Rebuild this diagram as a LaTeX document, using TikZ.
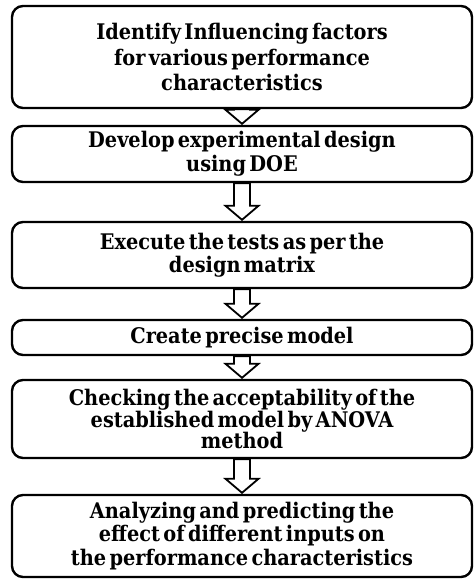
\documentclass[tikz,border=0pt]{standalone}
\usepackage{fontspec}
\setmainfont{DejaVu Serif Condensed}[WordSpace=0.5]
\usetikzlibrary{calc}

\tikzset{
  stepbox/.style={draw=black, line width=2.4pt, rounded corners=11pt,
    minimum width=460pt, inner sep=0pt, align=center, fill=white,
    font=\bfseries\fontsize{21.5}{24}\selectfont},
  blockarrow/.style={draw=black, line width=1.8pt, fill=white, line join=miter},
}

% hollow block arrow from the bottom of one step to the top of the next
\newcommand\flowarrow[2]{%
  \draw[blockarrow] let \p1=(#1.south), \p2=(#2.north) in
    (\x1-8pt,\y1) -- (\x1-8pt,\y2+15pt) -- (\x1-16.5pt,\y2+15pt) -- (\x1,\y2+1pt)
    -- (\x1+16.5pt,\y2+15pt) -- (\x1+8pt,\y2+15pt) -- (\x1+8pt,\y1) -- cycle;
}

\begin{document}
\begin{tikzpicture}
  \useasboundingbox (0,0) rectangle (474pt,-579pt);

  \node[stepbox, minimum height=102pt, font=\bfseries\fontsize{21.5}{25.5}\selectfont] (s1) at (242pt,-57pt)
    {Identify Influencing factors\\for various performance\\characteristics};
  \node[stepbox, minimum height=56pt] (s2) at (242pt,-154pt)
    {Develop experimental design\\using DOE};
  \node[stepbox, minimum height=66pt, font=\bfseries\fontsize{21.5}{23}\selectfont] (s3) at (242pt,-255pt)
    {Execute the tests as per the\\design matrix};
  \node[stepbox, minimum height=35pt] (s4) at (242pt,-337.5pt)
    {Create precise model};
  \node[stepbox, minimum height=78pt, font=\bfseries\fontsize{21.5}{21.5}\selectfont] (s5) at (242pt,-419pt)
    {Checking the acceptability of the\\established model by ANOVA\\method};
  \node[stepbox, minimum height=82pt, font=\bfseries\fontsize{21.5}{23.5}\selectfont] (s6) at (242pt,-536pt)
    {Analyzing and predicting the\\effect of different inputs on\\the performance characteristics};

  \flowarrow{s1}{s2}
  \flowarrow{s2}{s3}
  \flowarrow{s3}{s4}
  \flowarrow{s4}{s5}
  \flowarrow{s5}{s6}
\end{tikzpicture}
\end{document}
